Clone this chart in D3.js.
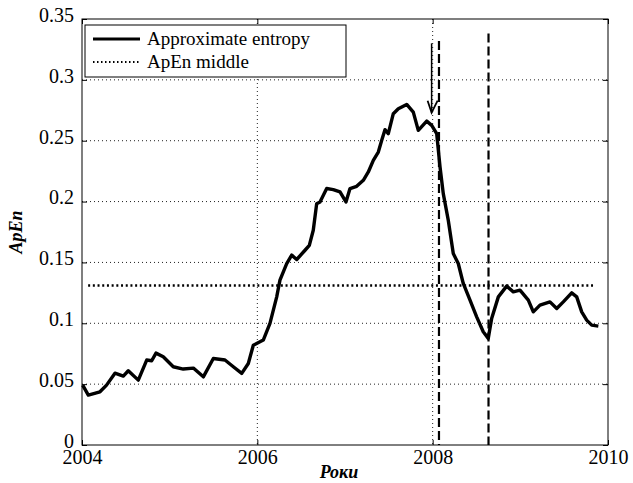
<!DOCTYPE html>
<html>
<head>
<meta charset="utf-8">
<script src="https://cdn.jsdelivr.net/npm/d3@7"></script>
<style>
    body { margin: 0; background: #fff; }
</style>
</head>
<body>
<div id="chart"></div>
<script>
// ApEn series (year, value)
const years = [2004.008, 2004.072, 2004.205, 2004.28, 2004.376, 2004.471, 2004.528, 2004.642, 2004.738, 2004.795,
    2004.844, 2004.927, 2005.041, 2005.155, 2005.27, 2005.384, 2005.498, 2005.631, 2005.726, 2005.822,
    2005.897, 2005.954, 2006.068, 2006.144, 2006.221, 2006.258, 2006.335, 2006.392, 2006.449, 2006.544,
    2006.593, 2006.638, 2006.677, 2006.715, 2006.791, 2006.866, 2006.943, 2007.011, 2007.057, 2007.133,
    2007.209, 2007.266, 2007.323, 2007.38, 2007.419, 2007.456, 2007.494, 2007.551, 2007.608, 2007.704,
    2007.779, 2007.836, 2007.932, 2007.989, 2008.046, 2008.084, 2008.121, 2008.178, 2008.235, 2008.292,
    2008.349, 2008.426, 2008.502, 2008.577, 2008.634, 2008.673, 2008.749, 2008.844, 2008.92, 2008.996,
    2009.091, 2009.148, 2009.224, 2009.338, 2009.415, 2009.49, 2009.586, 2009.643, 2009.70, 2009.757,
    2009.814, 2009.89];
const apen = [0.0492, 0.041, 0.0437, 0.0492, 0.059, 0.0566, 0.061, 0.0533, 0.0698, 0.0692,
    0.0755, 0.0725, 0.0643, 0.0624, 0.0632, 0.056, 0.0711, 0.0698, 0.0643, 0.0588,
    0.067, 0.082, 0.0862, 0.0999, 0.1217, 0.1354, 0.149, 0.156, 0.1524, 0.16,
    0.164, 0.1764, 0.1983, 0.1997, 0.2107, 0.2098, 0.2079, 0.1997, 0.2107, 0.2125,
    0.2175, 0.2243, 0.2339, 0.2407, 0.2503, 0.2591, 0.2558, 0.2722, 0.2763, 0.2798,
    0.2735, 0.2585, 0.2661, 0.2626, 0.2558, 0.2284, 0.2065, 0.1847, 0.1573, 0.1491,
    0.1327, 0.119, 0.1053, 0.093, 0.0876, 0.104, 0.1217, 0.1305, 0.1258, 0.1272,
    0.119, 0.1094, 0.1149, 0.1176, 0.1122, 0.1176, 0.125, 0.1217, 0.1094, 0.1026,
    0.0985, 0.0977];

const apenMiddle = 0.131;
const middleSpan = [2004.07, 2009.85];
const markerYears = [2008.072, 2008.637];
const markerTops = [0.332, 0.338];
const arrowYear = 2007.988, arrowFrom = 0.330, arrowTo = 0.273;

const xTicks = [2004, 2006, 2008, 2010];
const yTicks = [0, 0.05, 0.1, 0.15, 0.2, 0.25, 0.3, 0.35];
const legendLabels = ["Approximate entropy", "ApEn middle"];
const xLabel = "Роки", yLabel = "ApEn";

const serif = "Times New Roman";

const margin = {top: 19, right: 25, bottom: 38, left: 82},
    totalWidth = 633, totalHeight = 483,
    plotWidth = totalWidth - margin.left - margin.right,
    plotHeight = totalHeight - margin.top - margin.bottom;

let x = d3.scaleLinear().domain([2004, 2010]).range([0, plotWidth]),
    y = d3.scaleLinear().domain([0, 0.35]).range([plotHeight, 0]);

const svg = d3.select("#chart").append("svg")
    .attr("width", totalWidth)
    .attr("height", totalHeight)
    .style("font-family", serif);

const plot = svg.append("g")
    .attr("transform", `translate(${margin.left}, ${margin.top})`);

// dotted grid
plot.selectAll(".grid.h").data(yTicks.slice(1, -1)).enter().append("line")
    .attr("class", "grid h")
    .attr("x1", 0).attr("x2", plotWidth)
    .attr("y1", d => y(d)).attr("y2", d => y(d));
plot.selectAll(".grid.v").data(xTicks.slice(1, -1)).enter().append("line")
    .attr("class", "grid v")
    .attr("x1", d => x(d)).attr("x2", d => x(d))
    .attr("y1", 0).attr("y2", plotHeight);
plot.selectAll(".grid")
    .style("stroke", "#222")
    .style("stroke-width", 1)
    .style("stroke-dasharray", "1,3");

// axes with inward ticks
const fmt = d => String(+d.toFixed(2));
function styleAxis(g) {
    g.attr("font-family", null).attr("font-size", 20);
    g.select(".domain").remove();
    g.selectAll("line").style("stroke", "#000");
    g.selectAll("text").style("font-family", serif);
}
plot.append("g").call(d3.axisLeft(y).tickValues(yTicks).tickFormat(fmt).tickSize(-5).tickPadding(8))
    .call(styleAxis)
    .selectAll("text").attr("dy", "0.12em");
plot.append("g").attr("transform", `translate(0, ${plotHeight})`)
    .call(d3.axisBottom(x).tickValues(xTicks).tickFormat(d3.format("d")).tickSize(-5).tickPadding(5))
    .call(styleAxis)
    .selectAll("text").attr("dy", "0.71em");
plot.append("g")
    .call(d3.axisTop(x).tickValues(xTicks).tickFormat("").tickSize(-5))
    .call(styleAxis);
plot.append("g").attr("transform", `translate(${plotWidth}, 0)`)
    .call(d3.axisRight(y).tickValues(yTicks).tickFormat("").tickSize(-5))
    .call(styleAxis);

plot.append("rect")
    .attr("width", plotWidth).attr("height", plotHeight)
    .style("fill", "none").style("stroke", "#000").style("stroke-width", 1);

// ApEn middle
plot.append("line")
    .attr("x1", x(middleSpan[0])).attr("x2", x(middleSpan[1]))
    .attr("y1", y(apenMiddle)).attr("y2", y(apenMiddle))
    .style("stroke", "#000").style("stroke-width", 2.5)
    .style("stroke-dasharray", "2,2.7");

// vertical dashed markers
plot.selectAll(".marker").data(markerYears).enter().append("line")
    .attr("class", "marker")
    .attr("x1", d => x(d)).attr("x2", d => x(d))
    .attr("y1", (d, i) => y(markerTops[i])).attr("y2", plotHeight)
    .style("stroke", "#000").style("stroke-width", 2.2)
    .style("stroke-dasharray", "9,4");

// the series
plot.append("path")
    .datum(years.map((d, i) => ({x: d, y: apen[i]})))
    .style("fill", "none").style("stroke", "#000").style("stroke-width", 3.4)
    .style("stroke-linejoin", "round")
    .attr("d", d3.line().x(d => x(d.x)).y(d => y(d.y)));

// arrow
const ax = x(arrowYear), ay1 = y(arrowFrom), ay2 = y(arrowTo);
plot.append("line")
    .attr("x1", ax).attr("x2", ax).attr("y1", ay1).attr("y2", ay2)
    .style("stroke", "#000").style("stroke-width", 1.5);
plot.append("path")
    .attr("d", `M${ax - 4},${ay2 - 12} L${ax},${ay2} L${ax + 6},${ay2 - 12}`)
    .style("fill", "none").style("stroke", "#000").style("stroke-width", 1.8);

// legend
const legend = svg.append("g").attr("transform", "translate(85, 25)");
legend.append("rect")
    .attr("width", 261).attr("height", 52)
    .style("fill", "#fff").style("stroke", "#000").style("stroke-width", 1);
legend.append("line")
    .attr("x1", 8).attr("x2", 55).attr("y1", 14).attr("y2", 14)
    .style("stroke", "#000").style("stroke-width", 3.2);
legend.append("line")
    .attr("x1", 8).attr("x2", 55).attr("y1", 37).attr("y2", 37)
    .style("stroke", "#000").style("stroke-width", 2)
    .style("stroke-dasharray", "1.5,2.5");
legend.selectAll(".lab").data(legendLabels).enter().append("text")
    .attr("class", "lab")
    .attr("x", 62)
    .attr("y", (d, i) => 20 + i * 23)
    .style("font-family", serif)
    .attr("font-size", 19)
    .text(d => d);

// axis labels
svg.append("text")
    .attr("x", margin.left + plotWidth / 2 - 6)
    .attr("y", 478)
    .attr("text-anchor", "middle")
    .style("font-family", serif)
    .attr("font-size", 18).attr("font-weight", "bold").attr("font-style", "italic")
    .text(xLabel);
svg.append("text")
    .attr("transform", `translate(22, ${margin.top + plotHeight / 2}) rotate(-90)`)
    .attr("text-anchor", "middle")
    .style("font-family", serif)
    .attr("font-size", 18).attr("font-weight", "bold").attr("font-style", "italic")
    .text(yLabel);
</script>
</body>
</html>
